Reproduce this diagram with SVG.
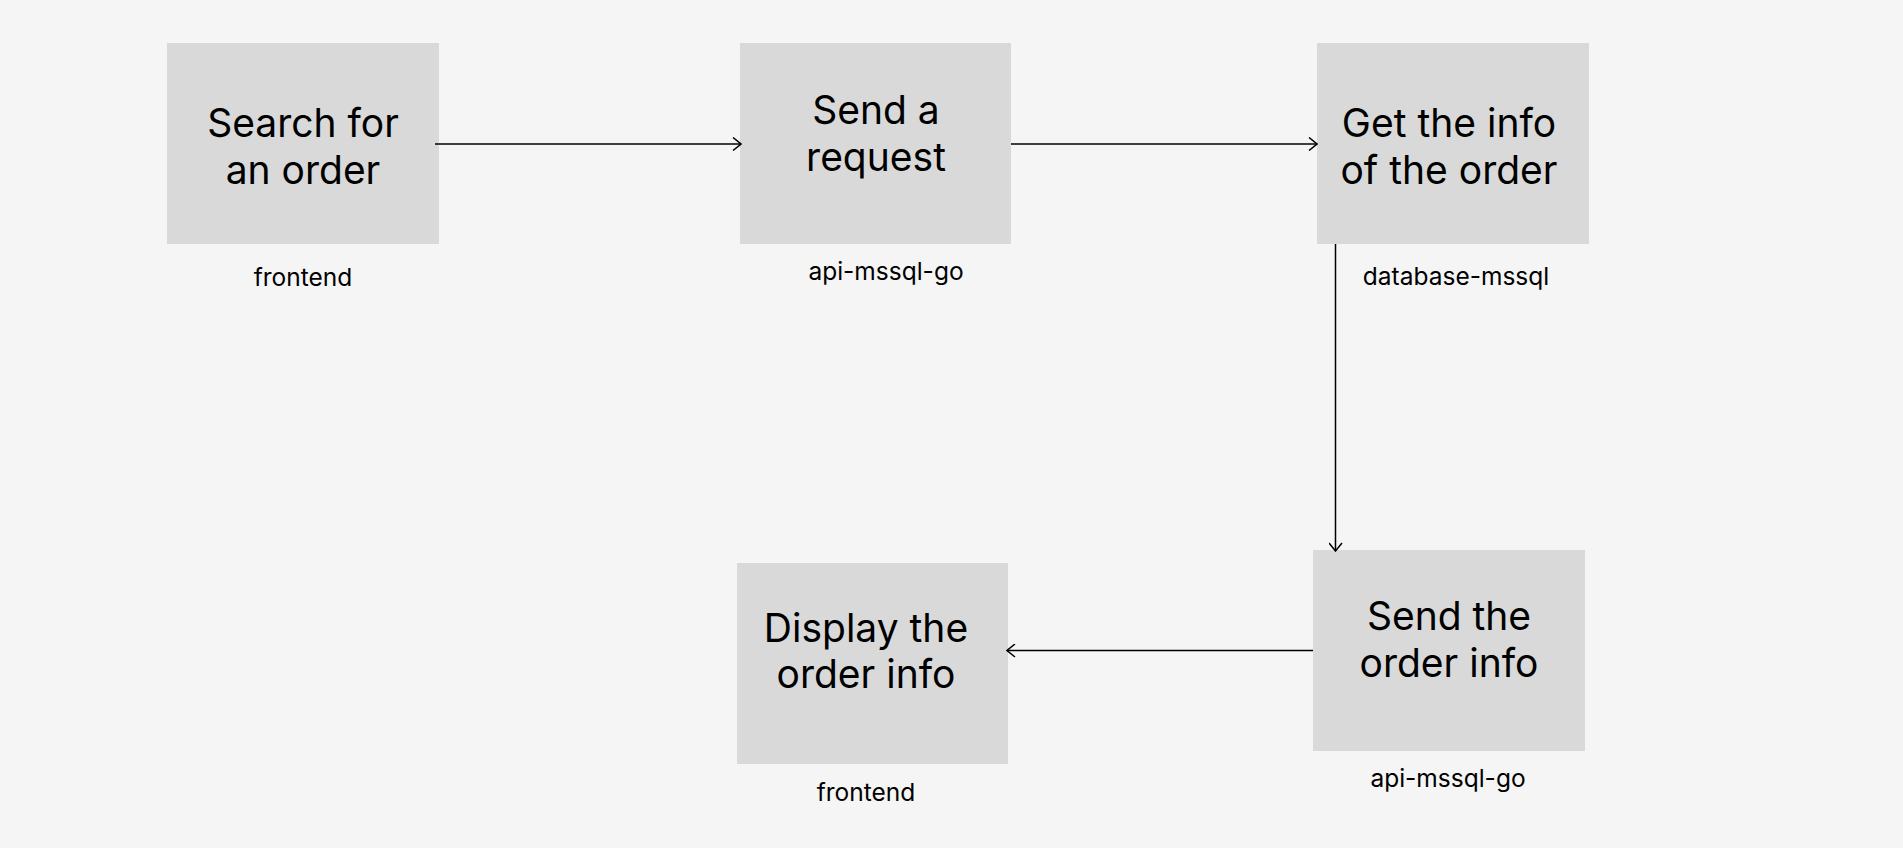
<svg xmlns="http://www.w3.org/2000/svg" width="1903" height="848" viewBox="0 0 1903 848">
<defs>
<style>
.box{fill:#d9d9d9}
.t{font-family:Inter,"Noto Sans","Liberation Sans",sans-serif;font-size:39px;font-weight:400;fill:#000;text-anchor:middle}
.l{font-family:Inter,"Noto Sans","Liberation Sans",sans-serif;font-size:24.5px;fill:#000;text-anchor:middle}
.c{stroke:#000;stroke-width:1.5;fill:none}
</style>
<marker id="arr" viewBox="0 0 10 14" refX="9" refY="7" markerWidth="10" markerHeight="14" markerUnits="userSpaceOnUse" orient="auto">
<path d="M1,0.5 L9,7 L1,13.5" fill="none" stroke="#000" stroke-width="1.5"/>
</marker>
</defs>
<rect width="1903" height="848" fill="#f5f5f5"/>
<g id="n1">
<rect class="box" x="167" y="43" width="272" height="201"/>
<text class="t" x="303" y="137">Search for</text>
<text class="t" x="303" y="184">an order</text>
<text class="l" x="303" y="286">frontend</text>
</g>
<g id="n2">
<rect class="box" x="740" y="43" width="271" height="201"/>
<text class="t" x="876" y="124">Send a</text>
<text class="t" x="876" y="171">request</text>
<text class="l" x="886" y="280">api-mssql-go</text>
</g>
<g id="n3">
<rect class="box" x="1317" y="43" width="272" height="201"/>
<text class="t" x="1449" y="137">Get the info</text>
<text class="t" x="1449" y="184">of the order</text>
<text class="l" x="1456" y="285">database-mssql</text>
</g>
<g id="n4">
<rect class="box" x="737" y="563" width="271" height="201"/>
<text class="t" x="866" y="642">Display the</text>
<text class="t" x="866" y="688">order info</text>
<text class="l" x="866" y="801">frontend</text>
</g>
<g id="n5">
<rect class="box" x="1313" y="550" width="272" height="201"/>
<text class="t" x="1449" y="630">Send the</text>
<text class="t" x="1449" y="677">order info</text>
<text class="l" x="1448" y="787">api-mssql-go</text>
</g>
<g id="connectors">
<line class="c" x1="435" y1="144" x2="741" y2="144" marker-end="url(#arr)"/>
<line class="c" x1="1011" y1="144" x2="1317" y2="144" marker-end="url(#arr)"/>
<line class="c" x1="1335.5" y1="244" x2="1335.5" y2="551" marker-end="url(#arr)"/>
<line class="c" x1="1313" y1="650.5" x2="1007" y2="650.5" marker-end="url(#arr)"/>
</g>
</svg>
